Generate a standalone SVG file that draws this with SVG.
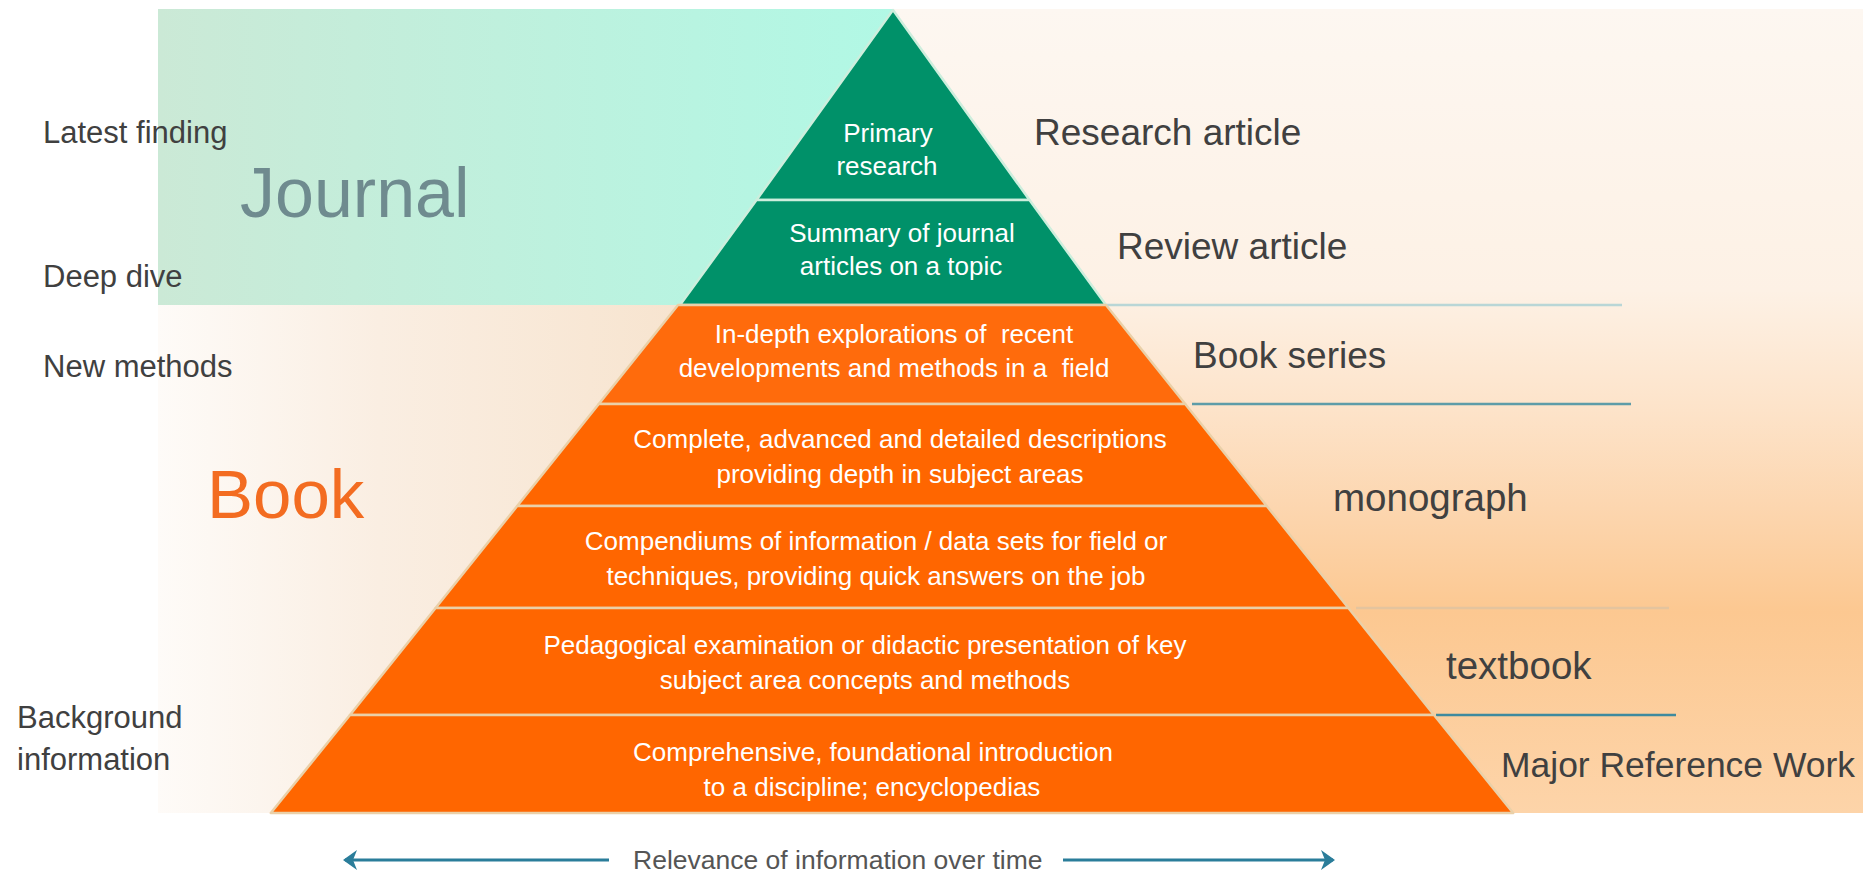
<svg xmlns="http://www.w3.org/2000/svg" width="1863" height="872" viewBox="0 0 1863 872">
<style>
text { font-family: "Liberation Sans", Arial, sans-serif; }
.lbl { font-size: 31px; fill: #404040; }
.rlbl { font-size: 37px; fill: #404040; }
.ptxt { font-size: 26px; fill: #ffffff; text-anchor: middle; white-space: pre; }
.green { fill: #009169; stroke: #cdeedd; stroke-width: 2.5; stroke-linejoin: round; }
.orange { fill: #ff6600; stroke: #ead0a8; stroke-width: 2.5; stroke-linejoin: round; }
.rline { stroke-width: 2.5; fill: none; }
.axis { stroke: #2a7d9a; stroke-width: 3; fill: none; }
</style>
<defs>
<linearGradient id="gJournal" x1="0" y1="0" x2="1" y2="0">
<stop offset="0" stop-color="#cbe9d6"/>
<stop offset="1" stop-color="#b1f8e5"/>
</linearGradient>
<linearGradient id="gBook" x1="0" y1="0" x2="1" y2="0">
<stop offset="0" stop-color="#fefbf8"/>
<stop offset="0.3" stop-color="#faeee2"/>
<stop offset="1" stop-color="#f5ddc2"/>
</linearGradient>
<linearGradient id="gPeach" gradientUnits="userSpaceOnUse" x1="0" y1="9" x2="0" y2="813">
<stop offset="0" stop-color="#fdf7f1"/>
<stop offset="0.35" stop-color="#fdf1e5"/>
<stop offset="0.5" stop-color="#fde3c9"/>
<stop offset="0.63" stop-color="#fcd5ad"/>
<stop offset="0.75" stop-color="#fcc891"/>
<stop offset="1" stop-color="#fdd4a9"/>
</linearGradient>
<marker id="head" viewBox="0 0 14 20" refX="12" refY="10" markerWidth="14" markerHeight="20" markerUnits="userSpaceOnUse" orient="auto-start-reverse">
<path d="M0,0 L14,10 L0,20 L4,10 Z" fill="#2a7d9a"/>
</marker>
</defs>

<g id="backgrounds">
<rect x="893" y="9" width="970" height="804" fill="url(#gPeach)"/>
<rect x="158" y="9" width="735" height="296" fill="url(#gJournal)"/>
<rect x="158" y="305" width="735" height="508" fill="url(#gBook)"/>
</g>

<g id="right-lines">
<line class="rline" x1="1106" y1="305" x2="1622" y2="305" stroke="#b9d6d6"/>
<line class="rline" x1="1192" y1="404" x2="1631" y2="404" stroke="#5e9ca8"/>
<line class="rline" x1="1356" y1="608" x2="1669" y2="608" stroke="#e4c49e"/>
<line class="rline" x1="1436" y1="715" x2="1676" y2="715" stroke="#3f8a9e"/>
</g>

<g id="layer-primary">
<polygon class="green" points="893,10 1029.5,200 756.5,200"/>
<text class="ptxt" x="888" y="142">Primary</text>
<text class="ptxt" x="887" y="175">research</text>
</g>
<g id="layer-summary">
<polygon class="green" points="756.5,200 1029.5,200 1106,305 680,305"/>
<text class="ptxt" x="902" y="242">Summary of journal</text>
<text class="ptxt" x="901" y="275">articles on a topic</text>
</g>
<g id="layer-indepth">
<polygon class="orange" style="fill:#ff6b0c" points="678,305 1106,305 1185.2,404 598.8,404"/>
<text class="ptxt" x="894" y="343">In-depth explorations of  recent</text>
<text class="ptxt" x="894" y="377">developments and methods in a  field</text>
</g>
<g id="layer-complete">
<polygon class="orange" points="598.8,404 1185.2,404 1266.8,506 517.2,506"/>
<text class="ptxt" x="900" y="448">Complete, advanced and detailed descriptions</text>
<text class="ptxt" x="900" y="483">providing depth in subject areas</text>
</g>
<g id="layer-compendiums">
<polygon class="orange" points="517.2,506 1266.8,506 1348.4,608 435.6,608"/>
<text class="ptxt" x="876" y="550">Compendiums of information / data sets for field or</text>
<text class="ptxt" x="876" y="585">techniques, providing quick answers on the job</text>
</g>
<g id="layer-pedagogical">
<polygon class="orange" points="435.6,608 1348.4,608 1434,715 350,715"/>
<text class="ptxt" x="865" y="654">Pedagogical examination or didactic presentation of key</text>
<text class="ptxt" x="865" y="689">subject area concepts and methods</text>
</g>
<g id="layer-comprehensive">
<polygon class="orange" points="350,715 1434,715 1513.2,813 270.8,813"/>
<text class="ptxt" x="873" y="761">Comprehensive, foundational introduction</text>
<text class="ptxt" x="872" y="796">to a discipline; encyclopedias</text>
</g>

<g id="left-labels">
<text class="lbl" x="43" y="143">Latest finding</text>
<text class="lbl" x="43" y="287">Deep dive</text>
<text class="lbl" x="43" y="377">New methods</text>
<text class="lbl" x="17" y="728">Background</text>
<text class="lbl" x="17" y="770">information</text>
</g>
<g id="category-journal">
<text x="240" y="217" font-size="70" fill="#6f8b8f">Journal</text>
</g>
<g id="category-book">
<text x="207" y="518" font-size="69" fill="#f36c21">Book</text>
</g>

<g id="right-labels">
<text class="rlbl" x="1034" y="145">Research article</text>
<text class="rlbl" x="1117" y="259">Review article</text>
<text class="rlbl" x="1193" y="368">Book series</text>
<text class="rlbl" x="1333" y="511" style="font-size:38.5px">monograph</text>
<text class="rlbl" x="1446" y="679" style="font-size:38.5px">textbook</text>
<text class="rlbl" x="1501" y="777" style="font-size:35px" textLength="354" lengthAdjust="spacingAndGlyphs">Major Reference Work</text>
</g>

<g id="connectors">
<line class="axis" x1="609" y1="860" x2="345" y2="860" marker-end="url(#head)"/>
<line class="axis" x1="1063" y1="860" x2="1333" y2="860" marker-end="url(#head)"/>
</g>
<g id="axis-label">
<text x="633" y="869" font-size="26.5" fill="#555555">Relevance of information over time</text>
</g>
</svg>
